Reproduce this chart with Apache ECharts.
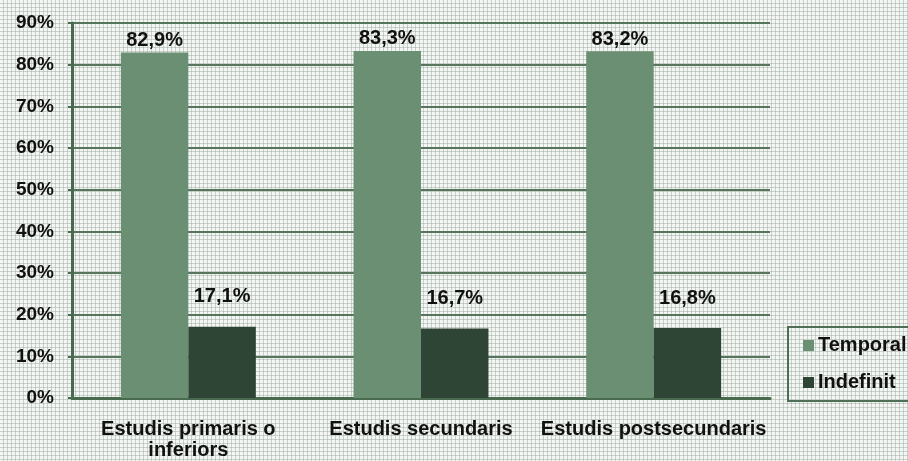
<!DOCTYPE html>
<html>
<head>
<meta charset="utf-8">
<script src="https://cdn.jsdelivr.net/npm/echarts@6/dist/echarts.min.js"></script>
<style>
html, body { margin: 0; padding: 0; }
#chart { width: 908px; height: 461px; }
</style>
</head>
<body>
<div id="chart"></div>
<script>
var categories = ['Estudis primaris o\ninferiors', 'Estudis secundaris', 'Estudis postsecundaris'];
var temporal = [82.9, 83.3, 83.2];
var indefinit = [17.1, 16.7, 16.8];
var yTicks = { min: 0, max: 90, interval: 10 };

// fons puntejat
var pat = document.createElement('canvas');
pat.width = 4; pat.height = 4;
var ctx = pat.getContext('2d');
ctx.fillStyle = '#f4f6f4';
ctx.fillRect(0, 0, 4, 4);
ctx.fillStyle = '#c9d2ca';
ctx.fillRect(0, 3, 4, 1);
ctx.fillRect(3, 0, 1, 4);
ctx.fillStyle = '#b3bfb5';
ctx.fillRect(3, 3, 1, 1);

function pct(p) {
    return p.value.toFixed(1).replace('.', ',') + '%';
}

var txt = { color: '#111', fontFamily: 'Liberation Sans', fontWeight: 'bold' };
var myChart = echarts.init(document.getElementById('chart'));
var option = {
    backgroundColor: { image: pat, repeat: 'repeat' },
    animation: false,
    grid: { left: 72, right: 138, top: 23, bottom: 63, containLabel: false },
    legend: {
        orient: 'vertical',
        left: 788,
        top: 327,
        data: ['Temporal', 'Indefinit'],
        icon: 'rect',
        itemWidth: 11,
        itemHeight: 11,
        itemGap: 16,
        padding: [8, 20, 8, 15],
        borderColor: '#4f6e56',
        borderWidth: 2,
        textStyle: { color: '#111', fontFamily: 'Liberation Sans', fontWeight: 'bold', fontSize: 20, lineHeight: 21, padding: [0, 0, 0, -1] }
    },
    xAxis: {
        type: 'category',
        data: categories,
        axisLine: { lineStyle: { color: '#4a6a50', width: 3 } },
        axisTick: { length: 5, lineStyle: { color: '#4a6a50', width: 3 } },
        axisLabel: Object.assign({ fontSize: 20, lineHeight: 21, margin: 21, interval: 0 }, txt)
    },
    yAxis: {
        type: 'value',
        min: yTicks.min,
        max: yTicks.max,
        interval: yTicks.interval,
        axisLine: { show: true, lineStyle: { color: '#4a6a50', width: 3 } },
        axisTick: { show: true, length: 4, lineStyle: { color: '#4a6a50', width: 2 } },
        splitLine: { lineStyle: { color: '#56755c', width: 2 } },
        axisLabel: Object.assign({ fontSize: 19, margin: 18, formatter: '{value}%' }, txt)
    },
    series: [{
        name: 'Temporal',
        type: 'bar',
        data: temporal,
        barGap: '0%',
        barCategoryGap: '42%',
        itemStyle: { color: '#6b8f73' },
        label: Object.assign({ show: true, position: 'top', distance: 2, fontSize: 20, formatter: pct }, txt)
    }, {
        name: 'Indefinit',
        type: 'bar',
        data: indefinit,
        itemStyle: { color: '#2e4536' },
        label: Object.assign({ show: true, position: 'top', distance: 20, fontSize: 20, formatter: pct }, txt)
    }]
};
myChart.setOption(option);
</script>
</body>
</html>
